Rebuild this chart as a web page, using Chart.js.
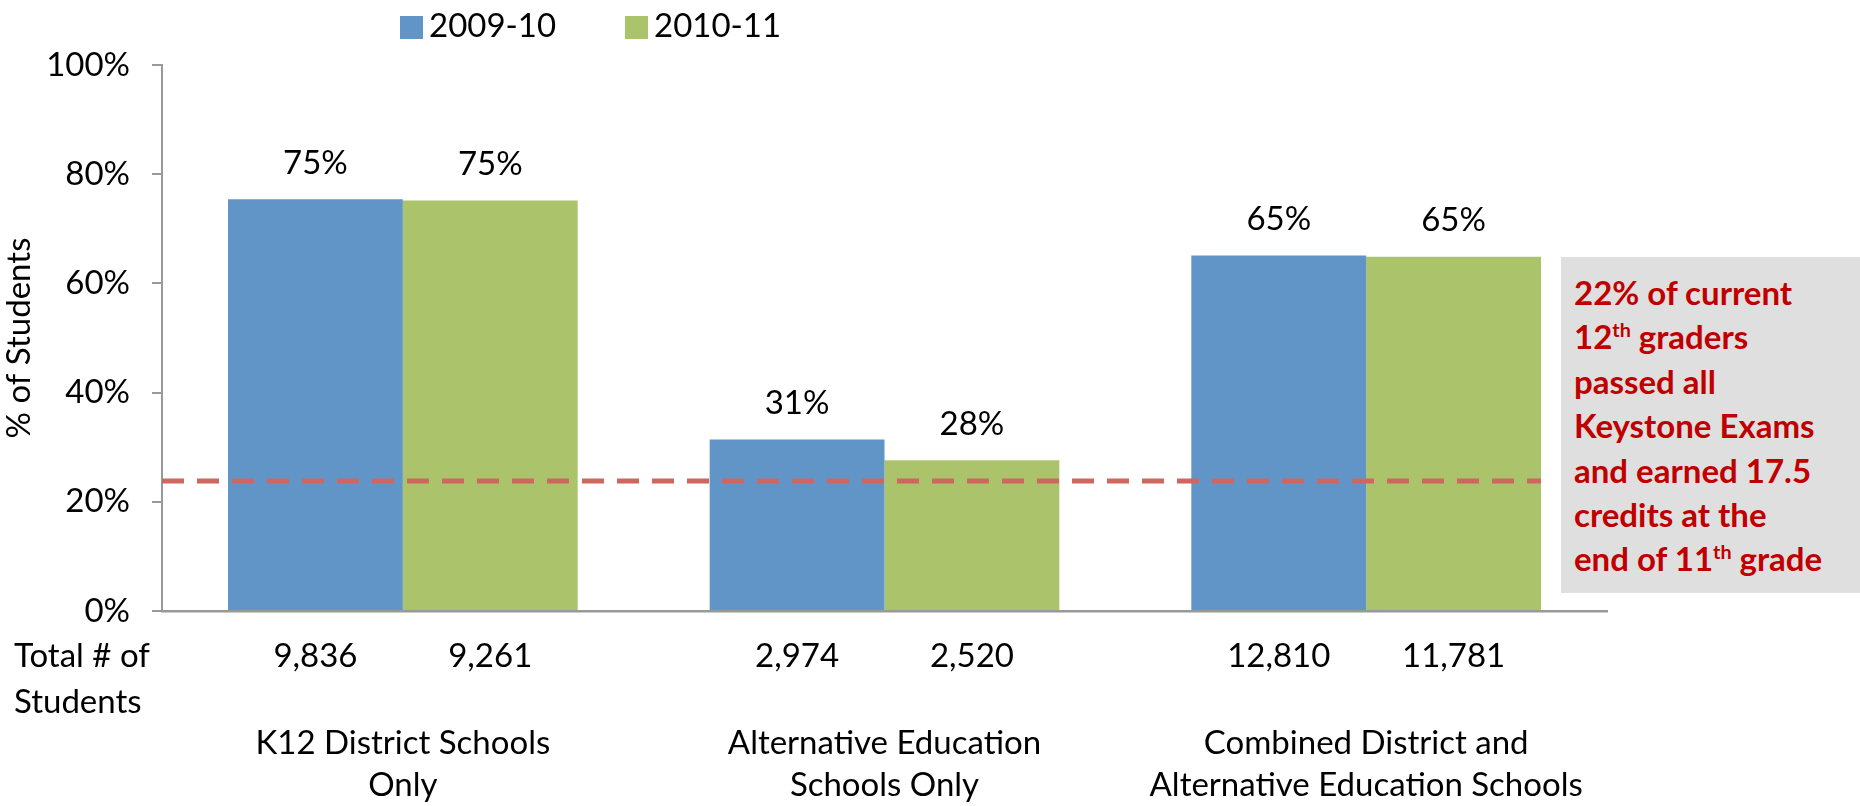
<!DOCTYPE html>
<html>
<head>
<meta charset="utf-8">
<script src="https://cdn.jsdelivr.net/npm/chart.js@4.4.1/dist/chart.umd.min.js"></script>
<style>
body { margin: 0; background: #fff; }
#wrap { position: relative; width: 1860px; height: 806px; font-family: Lato, sans-serif; }
#legend span.item { position: absolute; top: 4px; font-size: 33px; color: #000; white-space: nowrap; }
#legend span.box { display: inline-block; width: 23px; height: 23px; vertical-align: -2px; margin-right: 6px; }
#note { position: absolute; left: 1561px; top: 257px; width: 299px; height: 336px; box-sizing: border-box;
  padding: 13px 0 0 13px; background: #dfdfdf; color: #c00000; font-weight: bold; font-size: 33px; line-height: 44.4px; }
#note sup { font-size: 0.6em; line-height: 0; }
</style>
</head>
<body>
<div id="wrap">
  <canvas id="myChart" width="1860" height="806"></canvas>
  <div id="legend"></div>
  <div id="note">22% of current<br>12<sup>th</sup> graders<br>passed all<br>Keystone Exams<br>and earned 17.5<br>credits at the<br>end of 11<sup>th</sup> grade</div>
</div>
<script>
/* data */
var categories = [['K12 District Schools', 'Only'], ['Alternative Education', 'Schools Only'], ['Combined District and', 'Alternative Education Schools']];
var years = ['2009-10', '2010-11'];
var pct2009 = [75.4, 31.4, 65.1];
var pct2010 = [75.2, 27.6, 64.9];
var count2009 = ['9,836', '2,974', '12,810'];
var count2010 = ['9,261', '2,520', '11,781'];
var yTicks = [0, 20, 40, 60, 80, 100];
var targetLine = 23.8;

var colors = ['#6195c8', '#abc46c'];
var font = 'Lato, sans-serif';

/* legend in html */
var legendLeft = [400, 625];
var lg = '';
for (var i = 0; i < years.length; i++) {
    lg += '<span class="item" style="left:' + legendLeft[i] + 'px"><span class="box" style="background:' + colors[i] + '"></span>' + years[i] + '</span>';
}
document.getElementById('legend').innerHTML = lg;

/* extra labels: value on top, counts underneath, dashed line */
var extras = {
    id: 'extras',
    afterDatasetsDraw: function(chart) {
        var ctx = chart.ctx;
        var counts = [count2009, count2010];
        var last = null;
        ctx.save();
        ctx.font = '33px ' + font;
        ctx.fillStyle = '#000';
        ctx.textAlign = 'center';
        ctx.textBaseline = 'middle';
        chart.data.datasets.forEach(function(ds, d) {
            var meta = chart.getDatasetMeta(d);
            meta.data.forEach(function(bar, i) {
                ctx.fillText(Math.round(ds.data[i]) + '%', bar.x, bar.y - 36);
                ctx.fillText(counts[d][i], bar.x, 656);
                if (!last || bar.x > last.x) last = bar;
            });
        });
        ctx.textAlign = 'left';
        ctx.fillText('Total # of', 14, 656);
        ctx.fillText('Students', 14, 702);

        // dashed line
        var y = chart.scales.y.getPixelForValue(targetLine);
        ctx.strokeStyle = '#d0675f';
        ctx.lineWidth = 5;
        ctx.setLineDash([22, 13]);
        ctx.beginPath();
        ctx.moveTo(chart.chartArea.left, y);
        ctx.lineTo(last.x + last.width / 2, y);
        ctx.stroke();
        ctx.restore();
    }
};

var ctx = document.getElementById('myChart').getContext('2d');
var chart = new Chart(ctx, {
    type: 'bar',
    data: {
        labels: categories,
        datasets: [{
            label: years[0],
            backgroundColor: colors[0],
            data: pct2009
        }, {
            label: years[1],
            backgroundColor: colors[1],
            data: pct2010
        }]
    },
    options: {
        responsive: false,
        animation: false,
        categoryPercentage: 0.726,
        barPercentage: 1.0,
        layout: { padding: { top: 65, right: 253, bottom: 0, left: 0 } },
        plugins: { legend: { display: false }, tooltip: { enabled: false } },
        scales: {
            x: {
                afterFit: function(scale) { scale.height = 195; },
                grid: { display: true, drawOnChartArea: false, drawTicks: false },
                border: { color: '#999', width: 2.5 },
                ticks: { padding: 111, maxRotation: 0, autoSkip: false, color: '#000', font: { family: font, size: 33, lineHeight: 1.27 } }
            },
            y: {
                min: 0,
                max: 100,
                afterBuildTicks: function(scale) {
                    scale.ticks = yTicks.map(function(v) { return { value: v }; });
                },
                afterFit: function(scale) { scale.width = 162; },
                grid: { drawOnChartArea: false, tickLength: 10, color: '#999', lineWidth: 2 },
                border: { color: '#999', width: 2 },
                ticks: {
                    padding: 22,
                    color: '#000',
                    font: { family: font, size: 33 },
                    callback: function(v) { return v + '%'; }
                },
                title: {
                    display: true,
                    text: '% of Students',
                    color: '#000',
                    padding: 0,
                    font: { family: font, size: 33, lineHeight: 1.2 }
                }
            }
        }
    },
    plugins: [extras]
});
</script>
</body>
</html>
